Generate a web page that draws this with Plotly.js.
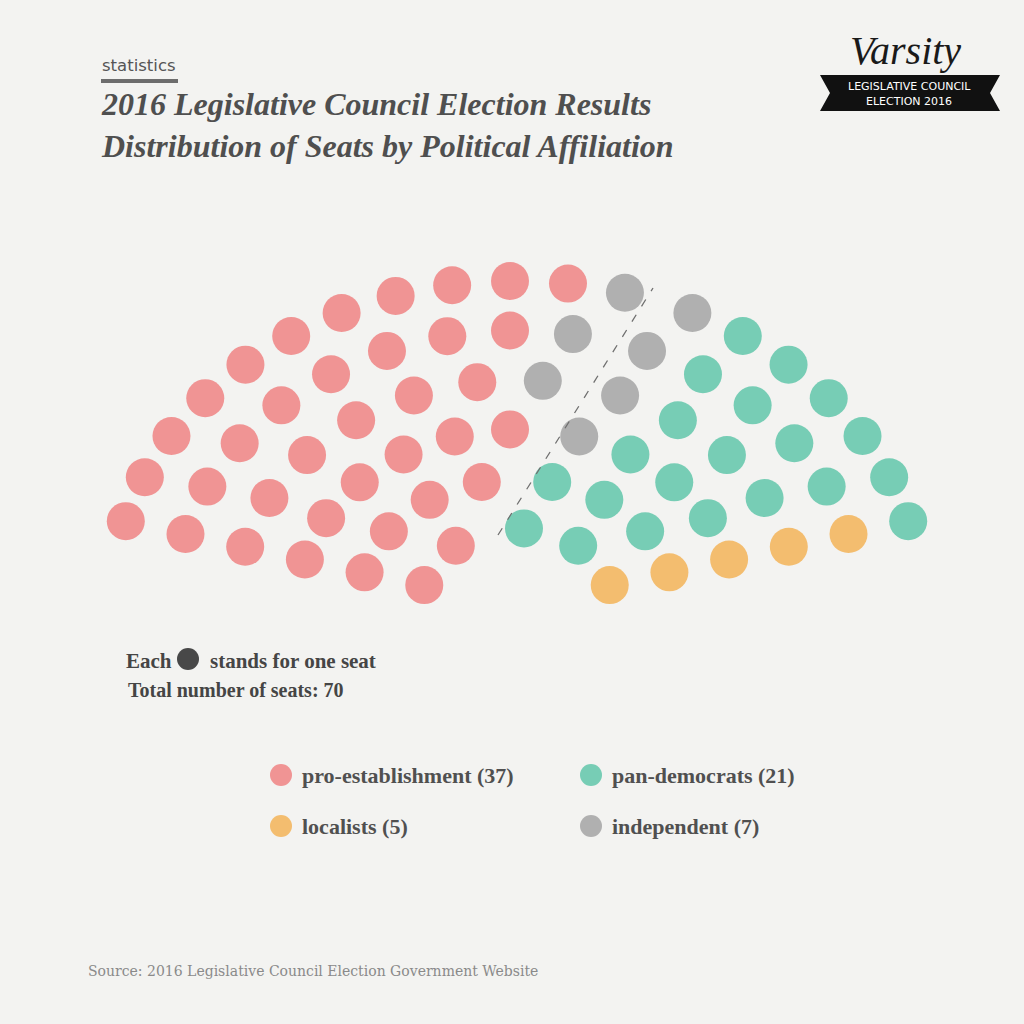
<!DOCTYPE html>
<html>
<head>
<meta charset="utf-8">
<script src="https://cdn.plot.ly/plotly-3.0.1.min.js"></script>
<style>
html,body{margin:0;padding:0;background:#f3f3f1;}
#chart{width:1024px;height:1024px;}
</style>
</head>
<body>
<div id="chart"></div>
<script>
// ---------- DATA ----------
const parties = ['pro-establishment', 'independent', 'pan-democrats', 'localists']; // left-to-right in chamber
const seatCounts = [37, 7, 21, 5];
const partyColors = ['#F09494', '#B0B0B0', '#77CDB5', '#F3BD6F'];
const legendOrder = ['pro-establishment', 'pan-democrats', 'localists', 'independent'];
const totalSeatsLabel = 'Total number of seats: ';
const titleLines = ['2016 Legislative Council Election Results', 'Distribution of Seats by Political Affiliation'];
const sourceText = 'Source: 2016 Legislative Council Election Government Website';

// ---------- LAYOUT CONFIG (geometry of the hemicycle) ----------
const cfg = {
  cx: 517, cy: 605, r0: 96, dr: 61.8, yScale: 0.8,
  rowSeats: [5, 8, 11, 12, 15, 19],
  a0: 165, a1: 15, gapPx: 14,
  div: [[498, 535], [653, 288]],
  dot: 38
};
const D2R = Math.PI / 180;
function pos(r, a) { return [cfg.cx + r * Math.cos(a * D2R), cfg.cy - r * cfg.yScale * Math.sin(a * D2R)]; }
function side(p) { const [a, b] = cfg.div; return (b[0] - a[0]) * (p[1] - a[1]) - (b[1] - a[1]) * (p[0] - a[0]); }

const seatsAll = [];
cfg.rowSeats.forEach((n, ri) => {
  const r = cfg.r0 + ri * cfg.dr;
  const span = cfg.a0 - cfg.a1;
  let nLeft = 0;
  for (let i = 0; i < n; i++) { const a = cfg.a0 - i * span / (n - 1); if (side(pos(r, a)) < 0) nLeft++; }
  const g = cfg.gapPx / r / D2R;
  const step = (span - g) / (n - 1);
  for (let i = 0; i < n; i++) {
    const left = i < nLeft;
    const a = cfg.a0 - i * step - (left ? 0 : g);
    const p = pos(r, a);
    seatsAll.push({ x: p[0], y: p[1], row: ri, block: left ? 'L' : 'R',
      colGap: left ? nLeft - 1 - i : i - nLeft, colEdge: left ? i : n - 1 - i, party: null });
  }
});

// split parties between the two blocks (left of divider / right of divider)
const L = seatsAll.filter(s => s.block === 'L').length;
let cum = 0; const leftList = [], rightList = [];
parties.forEach((p, k) => {
  const s0 = cum, s1 = cum + seatCounts[k]; cum = s1;
  const inL = Math.max(0, Math.min(s1, L) - s0);
  const inR = (s1 - s0) - inL;
  if (inL > 0) leftList.push({ k, n: inL });
  if (inR > 0) rightList.push({ k, n: inR });
});
leftList.reverse(); // order from gap outward

function fill(block, list) {
  let pool = seatsAll.filter(s => s.block === block);
  const first = list[0];
  pool.sort((a, b) => a.colGap - b.colGap || b.row - a.row);
  pool.slice(0, first.n).forEach(s => s.party = first.k);
  pool = pool.slice(first.n);
  if (list.length > 1) {
    const last = list[list.length - 1];
    pool.sort((a, b) => a.colEdge - b.colEdge || a.row - b.row);
    pool.slice(0, last.n).forEach(s => s.party = last.k);
    pool = pool.slice(last.n);
    pool.sort((a, b) => a.colGap - b.colGap || b.row - a.row);
    let idx = 0;
    list.slice(1, -1).forEach(m => { pool.slice(idx, idx + m.n).forEach(s => s.party = m.k); idx += m.n; });
  }
}
fill('L', leftList);
fill('R', rightList);

const traces = parties.map((p, k) => {
  const pts = seatsAll.filter(s => s.party === k);
  return {
    type: 'scatter', mode: 'markers', name: p,
    x: pts.map(s => s.x), y: pts.map(s => s.y),
    marker: { size: cfg.dot, color: partyColors[k], line: { width: 0 } },
    hoverinfo: 'name', showlegend: false
  };
});

// ---------- DECORATION ----------
const serif = 'Liberation Serif, Times New Roman, serif';
const textCol = '#505050';
const annotations = [];
const shapes = [];

annotations.push({ x: 100, y: 65, text: 'statistics', showarrow: false, xanchor: 'left', yanchor: 'middle',
  font: { family: 'DejaVu Sans, sans-serif', size: 16.5, color: '#555' } });
shapes.push({ type: 'rect', x0: 101, x1: 178, y0: 79, y1: 83, fillcolor: '#6d6d6d', line: { width: 0 } });

annotations.push({ x: 99, y: 125, text: titleLines.map(t => '<b><i>' + t + '</i></b>').join('<br>'), showarrow: false,
  xanchor: 'left', yanchor: 'middle', align: 'left', font: { family: serif, size: 32, color: '#4f4f4f' } });

// logo
annotations.push({ x: 905, y: 50, text: '<i>Varsity</i>', showarrow: false, xanchor: 'center', yanchor: 'middle',
  font: { family: serif, size: 40, color: '#1a1a1a' } });
shapes.push({ type: 'path', path: 'M820,75 L1000,75 L990,93 L1000,111 L820,111 L830,93 Z', fillcolor: '#111', line: { width: 0 } });
annotations.push({ x: 909, y: 86, text: 'LEGISLATIVE COUNCIL', showarrow: false, xanchor: 'center', yanchor: 'middle',
  font: { family: 'DejaVu Sans, sans-serif', size: 11, color: '#fff' } });
annotations.push({ x: 909, y: 101, text: 'ELECTION 2016', showarrow: false, xanchor: 'center', yanchor: 'middle',
  font: { family: 'DejaVu Sans, sans-serif', size: 11, color: '#fff' } });

// divider
shapes.push({ type: 'line', x0: cfg.div[0][0], y0: cfg.div[0][1], x1: cfg.div[1][0], y1: cfg.div[1][1],
  line: { color: '#6f6f6f', width: 1.3, dash: '8px,10px' } });

// seat key
annotations.push({ x: 124, y: 661, text: '<b>Each</b>', showarrow: false, xanchor: 'left', yanchor: 'middle',
  font: { family: serif, size: 21, color: '#454545' } });
shapes.push({ type: 'circle', x0: 177, x1: 199, y0: 648, y1: 670, fillcolor: '#484848', line: { width: 0 } });
annotations.push({ x: 208, y: 661, text: '<b>stands for one seat</b>', showarrow: false, xanchor: 'left', yanchor: 'middle',
  font: { family: serif, size: 21, color: '#454545' } });
const total = seatCounts.reduce((a, b) => a + b, 0);
annotations.push({ x: 126, y: 690, text: '<b>' + totalSeatsLabel + total + '</b>', showarrow: false, xanchor: 'left', yanchor: 'middle',
  font: { family: serif, size: 20, color: '#454545' } });

// legend
const legCols = [281, 591], legRows = [775, 826];
legendOrder.forEach((p, j) => {
  const k = parties.indexOf(p);
  const cx = legCols[j % 2], cy = legRows[Math.floor(j / 2)];
  shapes.push({ type: 'circle', x0: cx - 11, x1: cx + 11, y0: cy - 11, y1: cy + 11, fillcolor: partyColors[k], line: { width: 0 } });
  annotations.push({ x: cx + 19, y: cy, text: '<b>' + p + ' (' + seatCounts[k] + ')</b>', showarrow: false,
    xanchor: 'left', yanchor: 'middle', font: { family: serif, size: 22, color: textCol } });
});

annotations.push({ x: 86, y: 971, text: sourceText, showarrow: false, xanchor: 'left', yanchor: 'middle',
  font: { family: 'DejaVu Serif, serif', size: 14, color: '#8a8a8a' } });

const layout = {
  width: 1024, height: 1024,
  margin: { l: 0, r: 0, t: 0, b: 0 },
  paper_bgcolor: '#f3f3f1', plot_bgcolor: '#f3f3f1',
  xaxis: { range: [0, 1024], visible: false, fixedrange: true },
  yaxis: { range: [1024, 0], visible: false, fixedrange: true },
  showlegend: false,
  annotations, shapes
};
Plotly.newPlot('chart', traces, layout, { displayModeBar: false, staticPlot: true });
</script>
</body>
</html>
